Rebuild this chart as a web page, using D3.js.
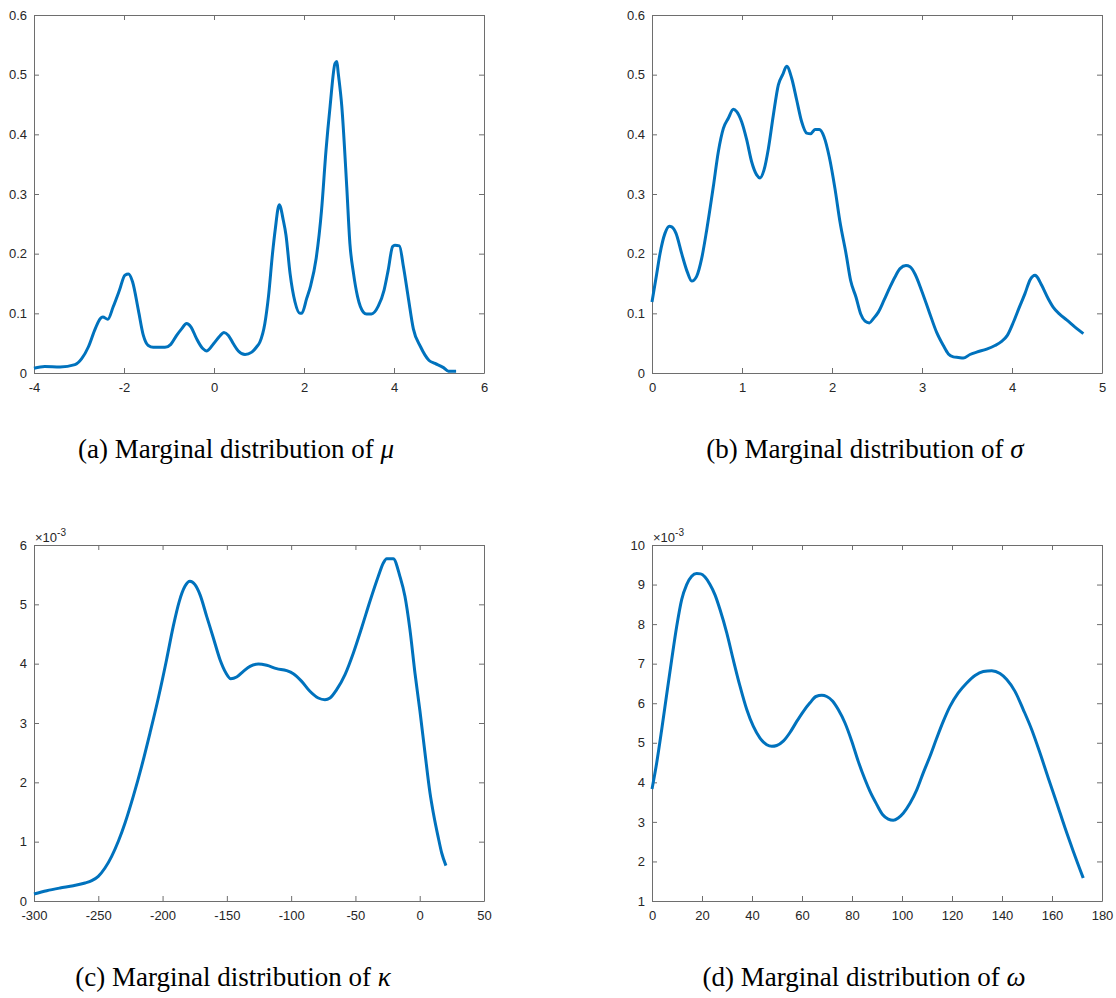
<!DOCTYPE html>
<html>
<head>
<meta charset="utf-8">
<script src="https://cdn.jsdelivr.net/npm/d3@7"></script>
<style>
  html, body { margin: 0; padding: 0; background: #fff; }
  svg { display: block; }
  .tick text { font-family: "Liberation Sans", Arial, Helvetica, sans-serif; font-size: 13px; fill: #262626; }
  .caption { font-family: "Liberation Serif", "Times New Roman", serif; font-size: 27px; fill: #000; }
</style>
</head>
<body>
<svg id="chart" width="1116" height="998"></svg>
<script>
// Kernel density estimates: [parameter value, density]
const muDensity = [
  [-4,.008],[-3.76,.011],[-3.42,.010],[-3.09,.014],[-2.94,.024],[-2.79,.044],[-2.64,.074],[-2.53,.091],
  [-2.47,.094],[-2.36,.090],[-2.24,.111],[-2.10,.139],[-1.98,.164],[-1.90,.166],[-1.81,.153],[-1.68,.105],
  [-1.57,.063],[-1.46,.046],[-1.35,.043],[-1.09,.043],[-0.96,.048],[-0.83,.063],[-0.72,.074],[-0.61,.083],
  [-0.51,.077],[-0.39,.058],[-0.25,.041],[-0.16,.037],[-0.01,.049],[0.13,.062],[0.22,.068],[0.32,.063],
  [0.43,.049],[0.54,.037],[0.69,.031],[0.84,.035],[0.95,.044],[1.02,.052],[1.13,.083],[1.21,.128],
  [1.30,.200],[1.36,.240],[1.45,.282],[1.54,.256],[1.60,.231],[1.69,.167],[1.80,.119],[1.91,.100],
  [1.95,.100],[2.06,.125],[2.15,.147],[2.27,.192],[2.39,.273],[2.49,.374],[2.58,.447],[2.69,.519],
  [2.73,.522],[2.76,.503],[2.84,.447],[2.95,.312],[3.02,.217],[3.10,.167],[3.19,.128],[3.32,.102],
  [3.39,.099],[3.50,.099],[3.65,.112],[3.78,.139],[3.87,.172],[3.97,.212],[4.02,.214],[4.12,.213],
  [4.21,.178],[4.32,.125],[4.43,.074],[4.59,.044],[4.78,.021],[4.91,.016],[5.10,.009],[5.21,.003],[5.38,.003]
];

const sigmaDensity = [
  [0,.119],[0.052,.166],[0.089,.200],[0.144,.234],[0.193,.246],[0.219,.245],[0.267,.234],[0.330,.200],
  [0.393,.169],[0.441,.154],[0.496,.162],[0.552,.192],[0.607,.239],[0.681,.312],[0.737,.371],[0.793,.410],
  [0.848,.427],[0.904,.442],[0.941,.438],[0.996,.421],[1.052,.391],[1.107,.354],[1.163,.332],[1.200,.327],
  [1.244,.340],[1.293,.376],[1.348,.432],[1.404,.483],[1.452,.500],[1.496,.514],[1.552,.494],[1.607,.458],
  [1.663,.421],[1.719,.402],[1.763,.401],[1.811,.408],[1.859,.408],[1.911,.396],[1.970,.362],[2.033,.309],
  [2.089,.253],[2.156,.200],[2.207,.155],[2.267,.127],[2.319,.099],[2.367,.087],[2.415,.084],[2.459,.091],
  [2.515,.102],[2.578,.122],[2.644,.144],[2.700,.161],[2.756,.175],[2.822,.180],[2.867,.178],[2.922,.166],
  [2.996,.138],[3.081,.102],[3.163,.068],[3.237,.046],[3.293,.032],[3.348,.027],[3.404,.026],[3.459,.025],
  [3.533,.031],[3.607,.035],[3.719,.040],[3.811,.046],[3.885,.053],[3.948,.063],[4.015,.085],[4.081,.110],
  [4.144,.133],[4.200,.156],[4.256,.164],[4.274,.162],[4.330,.147],[4.404,.124],[4.459,.110],[4.526,.099],
  [4.607,.089],[4.700,.077],[4.793,.066]
];

// density in units of 1e-3
const kappaDensity = [
  [-300,0.118],[-290.1,0.174],[-279.8,0.219],[-269.4,0.258],[-260.3,0.303],[-255.1,0.343],[-250.0,0.416],
  [-244.8,0.556],[-239.6,0.753],[-234.4,1.006],[-229.2,1.315],[-222.8,1.764],[-216.3,2.270],[-209.8,2.831],
  [-203.3,3.421],[-196.9,4.067],[-191.7,4.629],[-187.0,5.051],[-182.6,5.303],[-178.7,5.388],[-174.8,5.331],
  [-170.9,5.163],[-165.7,4.798],[-160.5,4.433],[-155.3,4.067],[-150.7,3.843],[-147.0,3.747],[-142.4,3.775],
  [-137.2,3.871],[-132.0,3.955],[-125.5,3.994],[-119.0,3.972],[-111.3,3.916],[-103.5,3.882],[-98.3,3.831],
  [-91.8,3.702],[-85.4,3.534],[-78.9,3.421],[-73.7,3.393],[-69.8,3.421],[-64.6,3.562],[-58.1,3.815],
  [-51.6,4.180],[-45.2,4.601],[-38.7,5.051],[-32.2,5.472],[-28.3,5.697],[-25.7,5.770],[-20.6,5.770],
  [-15.4,5.472],[-11.5,5.135],[-7.6,4.573],[-3.7,3.843],[0.2,3.197],[4.1,2.494],[8.0,1.820],[10.6,1.483],
  [14.5,1.062],[17.1,0.809],[20.4,0.596]
];

// density in units of 1e-3
const omegaDensity = [
  [0,3.83],[1.87,4.49],[3.87,5.33],[5.87,6.22],[7.87,7.10],[9.87,7.94],[11.87,8.62],[13.87,9.00],
  [15.87,9.21],[17.87,9.28],[19.47,9.27],[21.2,9.19],[23.2,9.00],[25.2,8.74],[27.2,8.37],[29.9,7.78],
  [32.5,7.10],[35.2,6.43],[37.9,5.84],[40.5,5.42],[43.2,5.12],[45.9,4.95],[47.9,4.91],[49.9,4.93],
  [52.5,5.04],[55.2,5.26],[57.9,5.54],[60.5,5.79],[63.2,6.01],[65.6,6.17],[67.9,6.20],[69.9,6.17],
  [72.3,6.05],[74.5,5.84],[77.2,5.50],[79.9,5.04],[82.5,4.53],[85.2,4.07],[87.2,3.77],[89.9,3.44],
  [92.3,3.18],[94.5,3.07],[96.5,3.04],[98.5,3.10],[100.5,3.22],[103.2,3.47],[105.9,3.81],[108.5,4.24],
  [111.2,4.66],[113.9,5.12],[116.5,5.54],[119.2,5.92],[122.5,6.26],[125.9,6.51],[129.2,6.70],[132.5,6.80],
  [135.9,6.82],[139.2,6.75],[141.9,6.60],[145.2,6.30],[148.5,5.84],[151.9,5.33],[155.2,4.74],[158.5,4.11],
  [161.9,3.48],[165.2,2.85],[168.5,2.26],[172.5,1.58]
];

// Axis ticks
const muXTicks = [-4, -2, 0, 2, 4, 6];
const sigmaXTicks = [0, 1, 2, 3, 4, 5];
const kappaXTicks = [-300, -250, -200, -150, -100, -50, 0, 50];
const omegaXTicks = [0, 20, 40, 60, 80, 100, 120, 140, 160, 180];
const probYTicks = [0, 0.1, 0.2, 0.3, 0.4, 0.5, 0.6];
const kappaYTicks = [0, 1, 2, 3, 4, 5, 6];
const omegaYTicks = [1, 2, 3, 4, 5, 6, 7, 8, 9, 10];

// Captions: prefix + italic Greek symbol
const captionText = ["(a) Marginal distribution of ", "(b) Marginal distribution of ",
                     "(c) Marginal distribution of ", "(d) Marginal distribution of "];
const captionSymbol = ["\u03BC", "\u03C3", "\u03BA", "\u03C9"];

const svg = d3.select("#chart");
svg.append("rect").attr("width", 1116).attr("height", 998).attr("fill", "#fff");

const panels = [
  { data: muDensity, xd: [-4, 6], yd: [0, 0.6], xt: muXTicks, yt: probYTicks,
    l: 34, t: 15, r: 484, b: 373, exp: false, cx: 236, cy: 458 },
  { data: sigmaDensity, xd: [0, 5], yd: [0, 0.6], xt: sigmaXTicks, yt: probYTicks,
    l: 652, t: 15, r: 1102, b: 373, exp: false, cx: 865, cy: 458 },
  { data: kappaDensity, xd: [-300, 50], yd: [0, 6], xt: kappaXTicks, yt: kappaYTicks,
    l: 34, t: 545, r: 484, b: 901, exp: true, cx: 233, cy: 986 },
  { data: omegaDensity, xd: [0, 180], yd: [1, 10], xt: omegaXTicks, yt: omegaYTicks,
    l: 652, t: 545, r: 1102, b: 901, exp: true, cx: 864, cy: 986 }
];

const axisColor = "#6e6e6e";
const fmt = v => String(v);

panels.forEach((p, i) => {
  const x = d3.scaleLinear().domain(p.xd).range([p.l, p.r]);
  const y = d3.scaleLinear().domain(p.yd).range([p.b, p.t]);
  const g = svg.append("g");

  const styleAxis = sel => {
    sel.select(".domain").attr("stroke", axisColor).attr("stroke-width", 1);
    sel.selectAll(".tick line").attr("stroke", axisColor).attr("stroke-width", 1);
  };

  g.append("g").attr("transform", `translate(0,${p.b})`)
    .call(d3.axisBottom(x).tickValues(p.xt).tickFormat(fmt).tickSizeInner(-5).tickSizeOuter(0).tickPadding(10))
    .call(styleAxis);
  g.append("g").attr("transform", `translate(0,${p.t})`)
    .call(d3.axisTop(x).tickValues(p.xt).tickFormat("").tickSizeInner(-5).tickSizeOuter(0))
    .call(styleAxis);
  g.append("g").attr("transform", `translate(${p.l},0)`)
    .call(d3.axisLeft(y).tickValues(p.yt).tickFormat(fmt).tickSizeInner(-5).tickSizeOuter(0).tickPadding(7))
    .call(styleAxis);
  g.append("g").attr("transform", `translate(${p.r},0)`)
    .call(d3.axisRight(y).tickValues(p.yt).tickFormat("").tickSizeInner(-5).tickSizeOuter(0))
    .call(styleAxis);

  g.selectAll(".tick text").attr("font-family", null).attr("font-size", null);

  if (p.exp) {
    const et = g.append("text")
      .attr("x", p.l + 1).attr("y", p.t - 3)
      .attr("font-family", "Liberation Sans, Arial, sans-serif")
      .attr("font-size", 13).attr("fill", "#262626");
    et.append("tspan").text("\u00D710");
    et.append("tspan").attr("font-size", 10).attr("dy", -6).text("-3");
  }

  const line = d3.line()
    .x(d => x(d[0])).y(d => y(d[1]))
    .curve(d3.curveMonotoneX);

  g.append("path")
    .datum(p.data)
    .attr("d", line)
    .attr("fill", "none")
    .attr("stroke", "#0072BD")
    .attr("stroke-width", 3)
    .attr("stroke-linejoin", "round")
    .attr("stroke-linecap", "butt");

  const cap = svg.append("text").attr("class", "caption")
    .attr("x", p.cx).attr("y", p.cy).attr("text-anchor", "middle");
  cap.append("tspan").text(captionText[i]);
  cap.append("tspan").attr("font-style", "italic").text(captionSymbol[i]);
});
</script>
</body>
</html>
